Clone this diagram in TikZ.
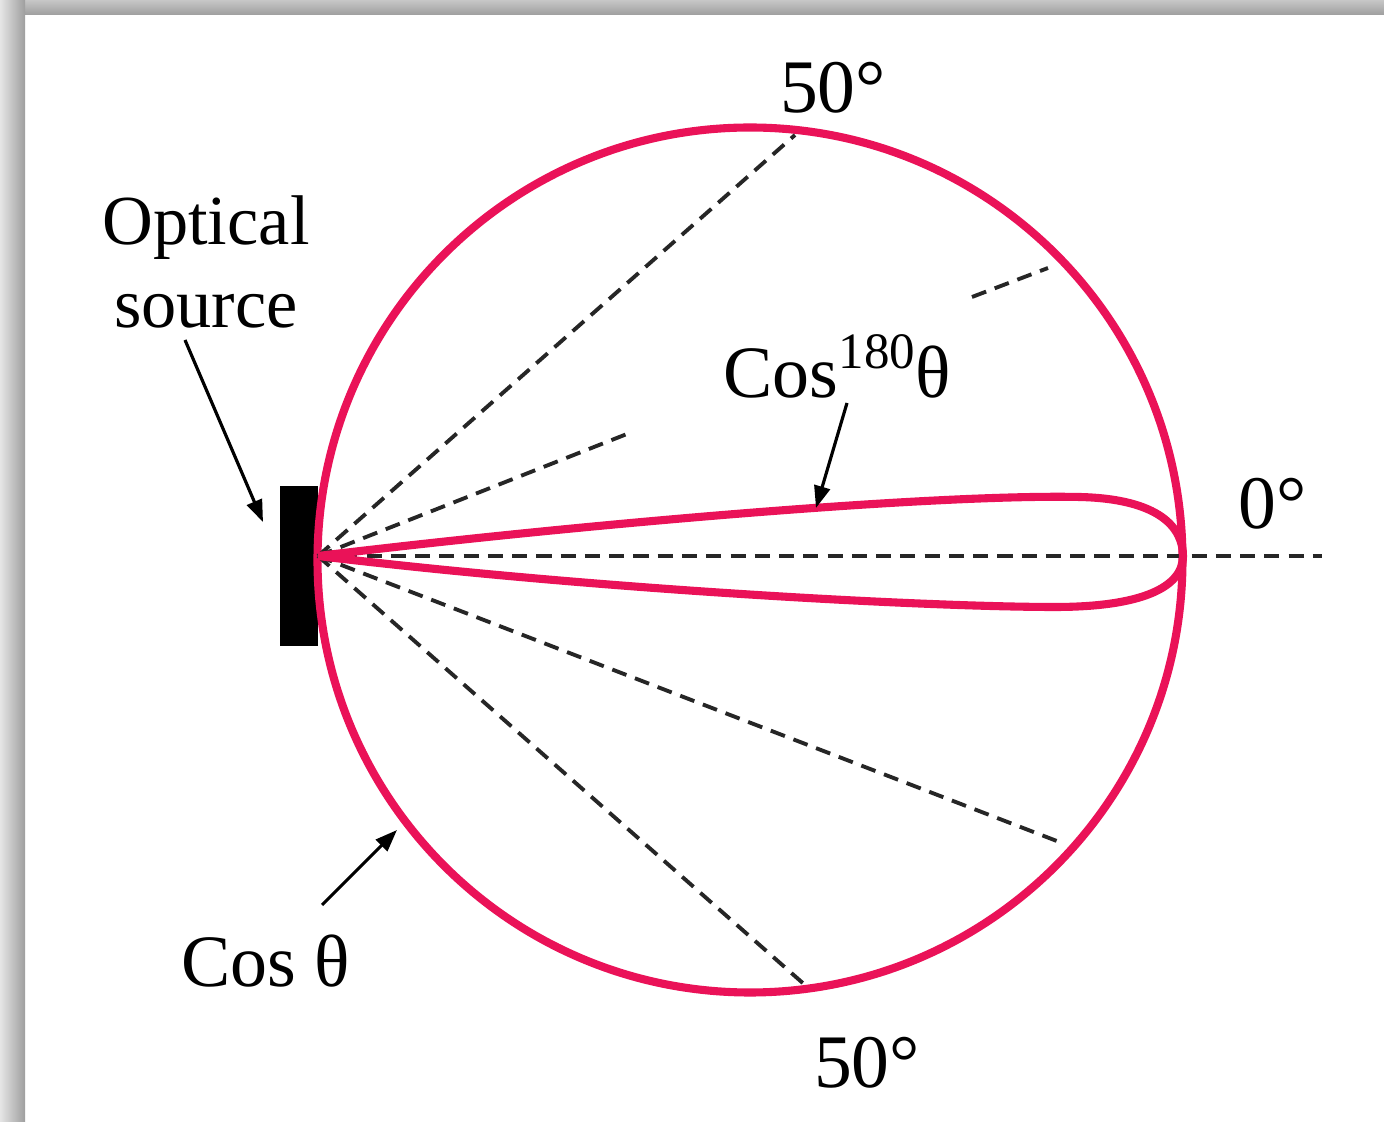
\documentclass[tikz,border=0pt]{standalone}
\usepackage{fontspec}
\setmainfont{Liberation Serif}
\usetikzlibrary{arrows.meta}
\definecolor{lobered}{RGB}{234,18,88}
\begin{document}
\begin{tikzpicture}[x=0.01cm,y=-0.01cm,
  redline/.style={draw=lobered,line width=2.3pt},
  dashln/.style={draw=black!85,line width=1.1pt,dash pattern=on 4.3pt off 2.6pt},
  lbl/.style={font=\fontsize{20}{24}\selectfont,inner sep=0pt,anchor=base},
  coslbl/.style={font=\fontsize{21}{24}\selectfont,inner sep=0pt,anchor=base},
  deg/.style={font=\fontsize{21.5}{24}\selectfont,inner sep=0pt,anchor=base},
  ptr/.style={draw=black,line width=0.9pt,-{Triangle[length=0.22cm,width=0.16cm]}}
]
\useasboundingbox (0,0) rectangle (1384,1122);
\fill[white] (0,0) rectangle (1384,1122);
% frame shadow
\shade[top color=black!22,bottom color=black!38] (0,0) rectangle (1384,15);
\shade[left color=black!10,right color=black!38] (0,0) rectangle (25,1122);

% source
\node[fill=black,minimum width=0.38cm,minimum height=1.6cm,inner sep=0pt] (src) at (299,566) {};
\coordinate (O) at (318,556);

% cos theta circle
\draw[redline] (750,560) circle (432.5);

% dashed lines
\coordinate (u50) at (795,135);
\coordinate (l50) at (805,985);
\coordinate (u20a) at (632,432);
\coordinate (u20b) at (972,297);
\coordinate (u20c) at (1048,268);
\coordinate (l20) at (1062,843);
\coordinate (zero) at (1322,556);
\draw[dashln] (O) -- (u50);
\draw[dashln] (O) -- (l50);
\draw[dashln] (O) -- (u20a);
\draw[dashln] (u20b) -- (u20c);
\draw[dashln] (O) -- (l20);
\draw[dashln] (O) -- (zero);

% cos^180 lobe
\draw[redline] (O) .. controls (600,522) and (940,494) .. (1080,497)
  .. controls (1160,499) and (1183,528) .. (1183,556)
  .. controls (1183,588) and (1140,607) .. (1055,607)
  .. controls (930,607) and (600,590) .. (O);

% labels
\node[lbl] (opt1) at (206,245) {Optical};
\node[lbl] (opt2) at (206,328) {source};
\node[deg] (t50) at (833,113) {50°};
\node[deg] (b50) at (867,1088) {50°};
\node[deg] (z0) at (1273,529) {0°};
\node[coslbl] (c180) at (837,398) {Cos\raisebox{8.5pt}{\fontsize{14.5}{15}\selectfont 180}θ};
\node[coslbl] (c1) at (266,987) {Cos θ};

% pointer arrows
\coordinate (a1s) at (185,340);
\coordinate (a1t) at (263,522);
\coordinate (a2s) at (847,403);
\coordinate (a2t) at (816,508);
\coordinate (a3s) at (322,905);
\coordinate (a3t) at (397,830);
\draw[ptr] (a1s) -- (a1t);
\draw[ptr] (a2s) -- (a2t);
\draw[ptr] (a3s) -- (a3t);
\end{tikzpicture}
\end{document}
